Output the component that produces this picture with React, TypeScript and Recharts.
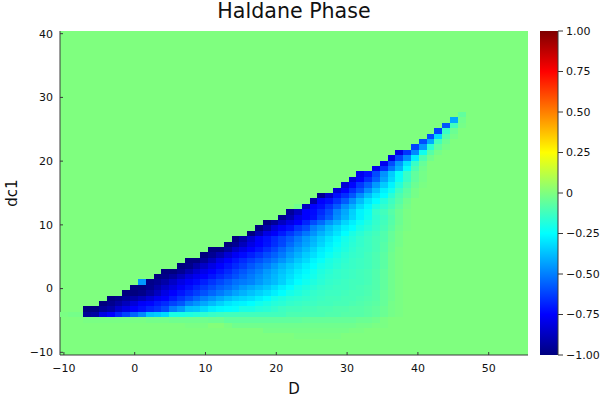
import { Bar, BarChart, ReferenceArea, Scatter, ScatterChart, XAxis, YAxis } from 'recharts';

// heatmap axes (60 x 60 grid)
const dValues = [-10, -8.9, -7.8, -6.69, -5.59, -4.49, -3.39, -2.29, -1.19, -0.08, 1.02, 2.12, 3.22, 4.32, 5.42, 6.53, 7.63, 8.73, 9.83, 10.93, 12.03, 13.14, 14.24, 15.34, 16.44, 17.54, 18.64, 19.75, 20.85, 21.95, 23.05, 24.15, 25.25, 26.36, 27.46, 28.56, 29.66, 30.76, 31.86, 32.97, 34.07, 35.17, 36.27, 37.37, 38.47, 39.58, 40.68, 41.78, 42.88, 43.98, 45.08, 46.19, 47.29, 48.39, 49.49, 50.59, 51.69, 52.8, 53.9, 55];
const dc1Values = [-10, -9.15, -8.31, -7.46, -6.61, -5.76, -4.92, -4.07, -3.22, -2.37, -1.53, -0.68, 0.17, 1.02, 1.86, 2.71, 3.56, 4.41, 5.25, 6.1, 6.95, 7.8, 8.64, 9.49, 10.34, 11.19, 12.03, 12.88, 13.73, 14.58, 15.42, 16.27, 17.12, 17.97, 18.81, 19.66, 20.51, 21.36, 22.2, 23.05, 23.9, 24.75, 25.59, 26.44, 27.29, 28.14, 28.98, 29.83, 30.68, 31.53, 32.37, 33.22, 34.07, 34.92, 35.76, 36.61, 37.46, 38.31, 39.15, 40];

const xTicks = [-10, 0, 10, 20, 30, 40, 50];
const yTicks = [-10, 0, 10, 20, 30, 40];
const barTicks = [-1, -0.75, -0.5, -0.25, 0, 0.25, 0.5, 0.75, 1];
const jetColors = ['#00007F', '#0000FF', '#007FFF', '#00FFFF', '#7FFF7F', '#FFFF00', '#FF7F00', '#FF0000', '#7F0000'];

// order parameter in hundredths: [dc1 row index, first D column, ...values]
const row03 = [3, 30, -1, -1, -1, -1, -1, -1];
const row04 = [4, 26, -2, -2, -2, -2, -2, -2, -2, -2, -2, -2, -2, -1, -1];
const row05 = [5, 16, -1, -1, -1, 1, 1, -1, -3, -3, -3, -3, -3, -3, -3, -3, -3, -3, -3, -3, -3, -3, -3, -3, -2, -2, -1, -1];
const row06 = [6, 3, -1, -1, -1, -1, -1, -1, -1, -1, -2, -2, -2, -3, -3, -3, -3, -3, -4, -4, -6, -6, -6, -6, -6, -6, -6, -6, -6, -6, -5, -5, -5, -5, -5, -5, -5, -4, -4, -3, -1];
const row07 = [7, 0, -1, -2, -2, -95, -93, -80, -75, -68, -62, -55, -48, -37, -35, -32, -20, -20, -19, -18, -16, -14, -13, -12, -12, -12, -12, -12, -12, -12, -12, -10, -10, -10, -10, -10, -9, -9, -8, -8, -8, -7, -6, -4, -2, -1];
const row08 = [8, 3, -100, -100, -95, -92, -85, -80, -75, -72, -68, -65, -60, -50, -45, -37, -36, -32, -28, -26, -25, -24, -20, -20, -18, -17, -15, -13, -12, -12, -11, -11, -10, -10, -9, -9, -8, -8, -7, -6, -4, -2, -1];
const row09 = [9, 5, -100, -97, -93, -88, -82, -76, -74, -70, -67, -62, -58, -50, -46, -42, -38, -34, -30, -28, -27, -25, -22, -20, -18, -17, -15, -14, -13, -13, -12, -12, -11, -11, -10, -9, -8, -7, -5, -2, -1];
const row10 = [10, 6, -100, -98, -95, -92, -88, -83, -78, -75, -70, -65, -60, -55, -50, -46, -42, -38, -35, -33, -31, -28, -25, -21, -19, -17, -16, -15, -14, -13, -12, -12, -11, -11, -10, -9, -8, -5, -3, -1];
const row11 = [11, 8, -100, -100, -98, -93, -87, -80, -75, -71, -67, -63, -59, -55, -51, -47, -43, -40, -37, -34, -31, -28, -25, -21, -19, -17, -15, -14, -13, -13, -12, -11, -11, -10, -8, -5, -3, -1];
const row12 = [12, 9, -100, -100, -97, -92, -86, -81, -76, -72, -68, -64, -60, -56, -53, -49, -45, -42, -39, -36, -32, -28, -25, -21, -19, -17, -15, -14, -13, -13, -12, -11, -10, -9, -6, -3, -1];
const row13 = [13, 10, -45, -98, -96, -92, -86, -80, -76, -73, -69, -65, -61, -57, -53, -51, -49, -45, -41, -38, -34, -29, -25, -22, -19, -17, -15, -14, -13, -12, -12, -11, -9, -6, -3, -1];
const row14 = [14, 12, -100, -98, -94, -88, -82, -78, -75, -71, -67, -63, -59, -55, -51, -47, -43, -39, -35, -31, -27, -24, -21, -18, -16, -15, -14, -13, -12, -11, -9, -6, -3, -1];
const row15 = [15, 13, -100, -100, -96, -90, -84, -79, -75, -71, -67, -62, -58, -54, -50, -45, -41, -37, -33, -29, -26, -22, -19, -17, -15, -14, -13, -12, -11, -9, -6, -3, -1];
const row16 = [16, 15, -100, -98, -92, -86, -80, -75, -71, -67, -63, -58, -54, -50, -45, -40, -36, -32, -28, -25, -21, -19, -17, -15, -14, -13, -12, -10, -7, -3, -1];
const row17 = [17, 16, -100, -100, -95, -88, -80, -75, -71, -67, -63, -59, -55, -51, -46, -41, -36, -32, -27, -24, -20, -18, -16, -14, -13, -12, -10, -7, -3, -1];
const row18 = [18, 18, -100, -96, -90, -83, -77, -73, -69, -65, -60, -56, -51, -45, -40, -35, -31, -27, -23, -20, -17, -15, -14, -12, -10, -7, -3, -1];
const row19 = [19, 19, -100, -100, -94, -86, -80, -75, -71, -66, -61, -55, -49, -44, -39, -34, -29, -26, -22, -19, -16, -14, -13, -11, -8, -4, -1];
const row20 = [20, 21, -100, -96, -88, -80, -75, -71, -66, -61, -54, -48, -43, -38, -33, -28, -24, -20, -17, -15, -13, -11, -8, -4, -2];
const row21 = [21, 22, -100, -93, -84, -76, -72, -67, -62, -57, -51, -45, -40, -35, -30, -26, -21, -18, -15, -13, -11, -9, -5, -2];
const row22 = [22, 24, -100, -90, -80, -76, -70, -64, -58, -52, -46, -40, -35, -30, -25, -20, -17, -14, -12, -9, -5, -2];
const row23 = [23, 25, -100, -92, -82, -76, -72, -65, -60, -50, -45, -38, -33, -28, -25, -20, -17, -14, -11, -7, -3, -1];
const row24 = [24, 26, -100, -95, -87, -80, -75, -68, -60, -54, -46, -40, -33, -28, -23, -19, -15, -12, -8, -4, -1];
const row25 = [25, 28, -97, -90, -80, -75, -72, -64, -57, -47, -40, -33, -27, -22, -16, -13, -9, -4, -1];
const row26 = [26, 29, -95, -87, -75, -73, -67, -60, -49, -42, -34, -27, -23, -15, -12, -8, -4, -1];
const row27 = [27, 30, -3, -87, -75, -72, -65, -57, -47, -40, -32, -26, -19, -15, -11, -6, -2];
const row28 = [28, 32, -92, -75, -72, -65, -57, -47, -38, -30, -25, -18, -13, -8, -3];
const row29 = [29, 33, -97, -85, -72, -66, -58, -47, -38, -30, -25, -17, -10, -6, -2];
const row30 = [30, 35, -83, -75, -66, -58, -47, -37, -28, -22, -13, -7, -2];
const row31 = [31, 36, -83, -74, -64, -56, -45, -35, -27, -18, -10, -4, -1];
const row32 = [32, 37, -82, -75, -66, -56, -43, -33, -23, -14, -6, -2];
const row33 = [33, 38, -78, -72, -60, -46, -35, -24, -14, -6, -2];
const row34 = [34, 40, -78, -66, -52, -40, -24, -10, -3];
const row35 = [35, 41, -78, -60, -45, -30, -14, -5];
const row36 = [36, 42, -80, -62, -48, -28, -10, -3];
const row37 = [37, 43, -80, -65, -48, -22, -8, -2];
const row38 = [38, 45, -62, -45, -17, -6, -2];
const row39 = [39, 46, -60, -42, -12, -4];
const row40 = [40, 47, -60, -32, -8, -2];
const row41 = [41, 48, -62, -14, -4];
const row42 = [42, 49, -58, -12, -2];
const row43 = [43, 50, -42, -3];
const row44 = [44, 51, -6];
const orderRows = [row03, row04, row05, row06, row07, row08, row09, row10, row11, row12, row13, row14, row15, row16, row17, row18, row19, row20, row21, row22, row23, row24, row25, row26, row27, row28, row29, row30, row31, row32, row33, row34, row35, row36, row37, row38, row39, row40, row41, row42, row43, row44];

const cells = orderRows.flatMap(([rowIdx, firstCol, ...vals]) =>
  vals.map((v, i) => ({ D: dValues[firstCol + i], dc1: dc1Values[rowIdx], value: v / 100 }))
);

const hex = (c: string) => [1, 3, 5].map((i) => parseInt(c.slice(i, i + 2), 16));

// jet colormap, -1..1
const jet = (v: number) => {
  const t = (Math.max(-1, Math.min(1, v)) + 1) * 4;
  const i = Math.min(7, Math.floor(t));
  const a = hex(jetColors[i]);
  const b = hex(jetColors[i + 1]);
  const mix = a.map((n, k) => Math.round(n + (b[k] - n) * (t - i)));
  return `rgb(${mix[0]},${mix[1]},${mix[2]})`;
};

const HeatCell = (props: any) => (
  <rect
    x={props.cx - 3.9}
    y={props.cy - 2.7}
    width={7.8}
    height={5.4}
    fill={jet(props.payload.value)}
    shapeRendering="crispEdges"
  />
);

const minus = (v: number) => String(v).replace('-', '\u2212');
const barLabel = (v: number) => (v === 0 ? '0' : v.toFixed(2).replace('-', '\u2212'));

const FONT = 'DejaVu Sans';
const AXIS = '#3a3a3a';
const tickStyle = { fontFamily: FONT, fontSize: 11, fill: '#111' };
const labelStyle = { fontFamily: FONT, fontSize: 15, fill: '#111' };

export default function App() {
  return (
    <div style={{ position: 'absolute', left: 0, top: 0, width: 600, height: 400, background: '#fff' }}>
      <div
        style={{
          position: 'absolute',
          left: 60,
          width: 468,
          top: -1,
          textAlign: 'center',
          fontFamily: FONT,
          fontSize: 20.6,
          lineHeight: '24px',
          color: '#111',
        }}
      >
        Haldane Phase
      </div>
      <div
        style={{
          position: 'absolute',
          left: -8,
          top: 183,
          width: 40,
          textAlign: 'center',
          fontFamily: FONT,
          fontSize: 15,
          lineHeight: '20px',
          color: '#111',
          transform: 'rotate(-90deg)',
        }}
      >
        dc1
      </div>
      <div style={{ position: 'absolute', left: 0, top: 0 }}>
        <ScatterChart width={528} height={400} margin={{ top: 31, right: 0, bottom: 0, left: 0 }}>
          <XAxis
            type="number"
            dataKey="D"
            domain={[-10.55, 55.55]}
            ticks={xTicks}
            tickFormatter={minus}
            interval={0}
            height={45}
            allowDataOverflow
            stroke={AXIS}
            tickSize={-3}
            tickMargin={12}
            tick={tickStyle}
            label={{ value: 'D', position: 'insideBottom', offset: 6, style: labelStyle }}
          />
          <YAxis
            type="number"
            dataKey="dc1"
            domain={[-10.42, 40.42]}
            ticks={yTicks}
            tickFormatter={minus}
            interval={0}
            width={60}
            allowDataOverflow
            stroke={AXIS}
            tickSize={-3}
            tickMargin={10}
            tick={tickStyle}
          />
          <ReferenceArea x1={-10.55} x2={55.55} y1={-10.42} y2={40.42} fill={jetColors[4]} fillOpacity={1} stroke="none" />
          <Scatter data={cells} shape={HeatCell} isAnimationActive={false} />
        </ScatterChart>
      </div>
      <div style={{ position: 'absolute', left: 540, top: 0 }}>
        <BarChart
          width={60}
          height={400}
          data={[{ name: 'bar', range: [-1, 1] }]}
          margin={{ top: 31, right: 0, bottom: 45, left: 0 }}
          barCategoryGap={0}
          style={{ overflow: 'visible' }}
        >
          <defs>
            <linearGradient id="jetBar" x1="0" y1="1" x2="0" y2="0">
              {jetColors.map((c, i) => (
                <stop key={c} offset={i / (jetColors.length - 1)} stopColor={c} />
              ))}
            </linearGradient>
          </defs>
          <XAxis dataKey="name" hide />
          <YAxis
            orientation="right"
            type="number"
            domain={[-1, 1]}
            ticks={barTicks}
            tickFormatter={barLabel}
            interval={0}
            width={42}
            stroke={AXIS}
            tickSize={5}
            tickMargin={3}
            tick={tickStyle}
          />
          <Bar dataKey="range" fill="url(#jetBar)" isAnimationActive={false} />
        </BarChart>
      </div>
    </div>
  );
}
